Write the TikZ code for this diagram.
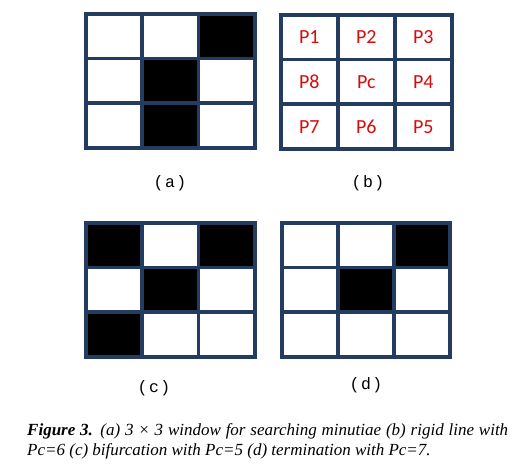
\documentclass[tikz,border=0pt]{standalone}
\usepackage{fontspec}
\setmainfont{Liberation Serif}
\newfontfamily\cellfont{Carlito}
\newfontfamily\tagfont{Liberation Mono}
\definecolor{gridblue}{RGB}{35,60,95}
\definecolor{labelred}{RGB}{214,12,12}

\begin{document}
\begin{tikzpicture}[
  x=1pt,y=-1pt,
  cell/.style={draw=gridblue,line width=3.6pt,fill=white,anchor=north west,
               inner sep=0pt,minimum width=56.3pt,minimum height=44.7pt},
  pix/.style={font=\cellfont\fontsize{20}{22}\selectfont,text=labelred,
              text height=13pt,text depth=0pt},
  tag/.style={font=\tagfont\fontsize{16.5}{18}\selectfont},
  caption/.style={anchor=base west,align=justify,text width=481pt,inner sep=0pt,
                  font=\fontsize{17}{20}\selectfont\itshape}
]
\useasboundingbox (0,0) rectangle (513,467);

% (a) window
\foreach \row [count=\r] in {{white,white,black},{white,black,white},{white,black,white}}
  \foreach \shade [count=\c] in \row
    \node[cell,fill=\shade] (a\r\c) at ({84+(\c-1)*56.3},{12+(\r-1)*44.7}) {};

% (b) neighbour names
\foreach \row [count=\r] in {{P1,P2,P3},{P8,Pc,P4},{P7,P6,P5}}
  \foreach \txt [count=\c] in \row
    \node[cell,pix,minimum width=57pt] (b\r\c) at ({279+(\c-1)*57},{13+(\r-1)*44.7}) {\txt};

% (c) bifurcation
\foreach \row [count=\r] in {{black,white,black},{white,black,white},{black,white,white}}
  \foreach \shade [count=\c] in \row
    \node[cell,fill=\shade] (c\r\c) at ({84+(\c-1)*56.3},{221+(\r-1)*44.7}) {};

% (d) termination
\foreach \row [count=\r] in {{white,white,black},{white,black,white},{white,white,white}}
  \foreach \shade [count=\c] in \row
    \node[cell,fill=\shade,minimum width=56pt] (d\r\c) at ({280+(\c-1)*56},{221+(\r-1)*44.7}) {};

\node[tag] (taga) at (170,183) {(\hspace{1.5pt}a\hspace{1.5pt})};
\node[tag] (tagb) at (368,183) {(\hspace{1.5pt}b\hspace{1.5pt})};
\node[tag] (tagc) at (154,388) {(\hspace{1.5pt}c\hspace{1.5pt})};
\node[tag] (tagd) at (366,385) {(\hspace{1.5pt}d\hspace{1.5pt})};

\node[caption] (cap) at (27,435) {\textbf{Figure 3.} (a) 3 × 3 window for searching minutiae (b) rigid line with\linebreak
  Pc=6 (c) bifurcation with Pc=5 (d) termination with Pc=7.};
\end{tikzpicture}
\end{document}
